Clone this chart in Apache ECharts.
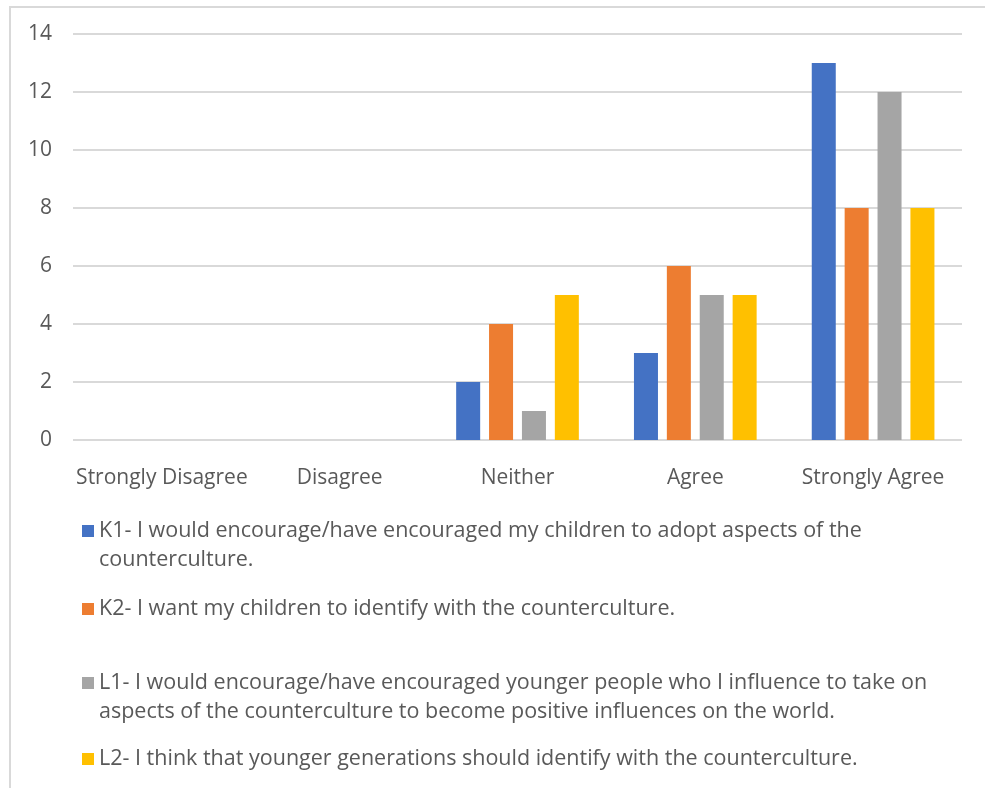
<!DOCTYPE html>
<html>
<head>
<meta charset="utf-8">
<script src="https://cdn.jsdelivr.net/npm/echarts@6/dist/echarts.min.js"></script>
<style>
  html, body { margin: 0; padding: 0; background: #fff; }
  #chart { width: 985px; height: 788px; }
</style>
</head>
<body>
<div id="chart"></div>
<script>
// Response categories on the x axis
const categories = ['Strongly Disagree', 'Disagree', 'Neither', 'Agree', 'Strongly Agree'];

// Statement names (series) and their wrapped legend labels
const seriesNames = [
  'K1- I would encourage/have encouraged my children to adopt aspects of the counterculture.',
  'K2- I want my children to identify with the counterculture.',
  'L1- I would encourage/have encouraged younger people who I influence to take on aspects of the counterculture to become positive influences on the world.',
  'L2- I think that younger generations should identify with the counterculture.'
];
const legendLabels = [
  'K1- I would encourage/have encouraged my children to adopt aspects of the\ncounterculture.',
  'K2- I want my children to identify with the counterculture.',
  'L1- I would encourage/have encouraged younger people who I influence to take on\naspects of the counterculture to become positive influences on the world.',
  'L2- I think that younger generations should identify with the counterculture.'
];

// Response counts per category
const k1Counts = [0, 0, 2, 3, 13];
const k2Counts = [0, 0, 4, 6, 8];
const l1Counts = [0, 0, 1, 5, 12];
const l2Counts = [0, 0, 5, 5, 8];

const seriesColors = ['#4472C4', '#ED7D31', '#A5A5A5', '#FFC000'];
const seriesData = [k1Counts, k2Counts, l1Counts, l2Counts];

const FONT = 'Open Sans';
const TEXT = '#595959';
const LINE_H = 29;
const BOX = 12;

// square swatch; for wrapped labels an empty point below stretches the icon box
// by one line so the swatch stays level with the first text line
const squareIcon = 'rect';
const tallSquareIcon = 'path://M0,0H12V12H0Z M0,' + (BOX + LINE_H) + 'L0,' + (BOX + LINE_H);

// one legend per statement so each can sit on its own row
const legendTops = [511.5, 589.5, 663.5, 739.5];
const legends = seriesNames.map((name, i) => {
  const twoLines = legendLabels[i].indexOf('\n') >= 0;
  return {
    data: [name],
    left: 77,
    top: legendTops[i],
    orient: 'vertical',
    icon: twoLines ? tallSquareIcon : squareIcon,
    itemWidth: BOX,
    itemHeight: twoLines ? BOX + LINE_H : BOX,
    itemGap: 0,
    selectedMode: false,
    formatter: () => legendLabels[i],
    textStyle: {
      fontFamily: FONT,
      fontSize: 21.5,
      color: TEXT,
      lineHeight: LINE_H
    }
  };
});

const chart = echarts.init(document.getElementById('chart'), null, { renderer: 'canvas' });
chart.setOption({
  backgroundColor: '#fff',
  animation: false,
  textStyle: { fontFamily: FONT },
  graphic: [{
    type: 'polyline',
    shape: { points: [[10, 800], [10, 7], [1000, 7]] },
    style: { stroke: '#d9d9d9', lineWidth: 2, fill: null },
    silent: true,
    z: -1
  }],
  legend: legends,
  grid: { left: 73, right: 23, top: 34, bottom: 348, containLabel: false },
  xAxis: {
    type: 'category',
    data: categories,
    axisLine: { show: false },
    axisTick: { show: false },
    axisLabel: { color: TEXT, fontSize: 21, fontFamily: FONT, margin: 28, interval: 0 }
  },
  yAxis: {
    type: 'value',
    min: 0,
    max: 14,
    interval: 2,
    axisLine: { show: false },
    axisTick: { show: false },
    splitLine: { lineStyle: { color: '#d9d9d9', width: 2 } },
    axisLabel: { color: TEXT, fontSize: 21, fontFamily: FONT, margin: 21 }
  },
  series: seriesNames.map((name, i) => ({
    name: name,
    type: 'bar',
    data: seriesData[i],
    itemStyle: { color: seriesColors[i] },
    barGap: '37%',
    barCategoryGap: '31%'
  }))
});
</script>
</body>
</html>
